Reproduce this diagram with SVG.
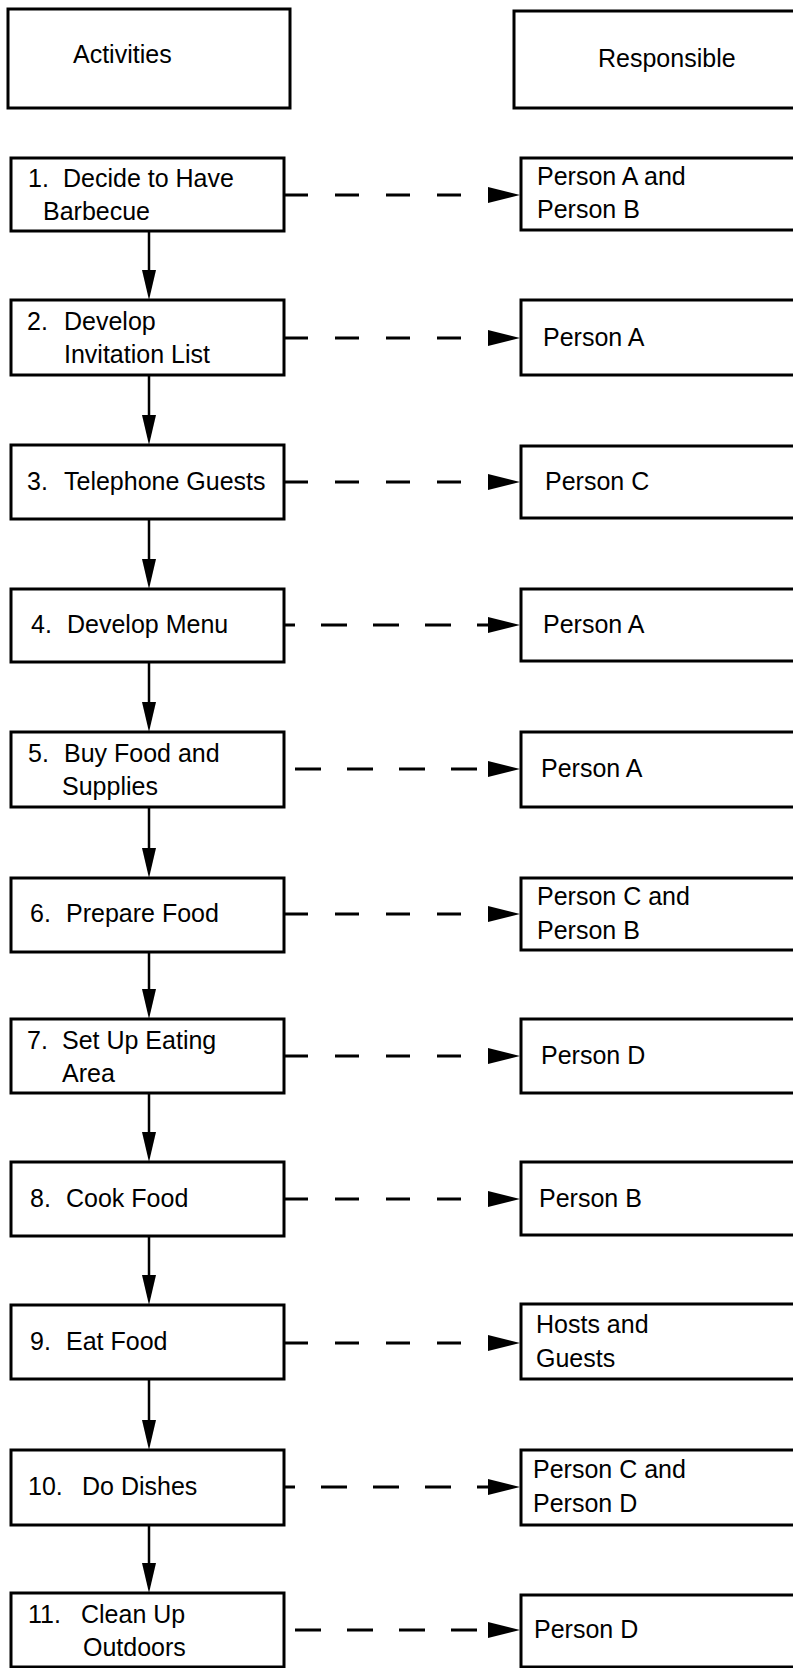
<svg xmlns="http://www.w3.org/2000/svg" width="793" height="1668" viewBox="0 0 793 1668">
  <style>
    .box { fill: #fff; stroke: #000; stroke-width: 3; }
    .t { font-family: "Liberation Sans", Arial, sans-serif; font-size: 25px; fill: #000; }
    .flow { stroke: #000; stroke-width: 2.5; fill: none; marker-end: url(#tipDown); }
    .dash { stroke: #000; stroke-width: 3; fill: none; marker-end: url(#tipRight); }
    .dA { stroke-dasharray: 24 27; }
    .dB { stroke-dasharray: 26 26; stroke-dashoffset: 15; }
    .dC { stroke-dasharray: 26 26; }
  </style>
  <defs>
    <marker id="tipRight" markerUnits="userSpaceOnUse" markerWidth="33" markerHeight="18" refX="0" refY="9" orient="auto">
      <path d="M0,1 L32,9 L0,17 Z" fill="#000"/>
    </marker>
    <marker id="tipDown" markerUnits="userSpaceOnUse" markerWidth="31" markerHeight="15" refX="0" refY="7.5" orient="auto">
      <path d="M0,0.5 L30,7.5 L0,14.5 Z" fill="#000"/>
    </marker>
  </defs>

  <rect width="793" height="1668" fill="#fff"/>

  <!-- column headings -->
  <g id="head-activities">
    <rect class="box" x="8" y="9" width="282" height="99"/>
    <text class="t" x="73" y="63">Activities</text>
  </g>
  <g id="head-responsible">
    <rect class="box" x="514" y="11" width="300" height="97"/>
    <text class="t" x="598" y="67">Responsible</text>
  </g>

  <!-- activity steps -->
  <g id="act1">
    <rect class="box" x="11" y="158" width="273" height="73"/>
    <text class="t" x="28" y="187">1.</text><text class="t" x="63" y="187">Decide to Have</text>
    <text class="t" x="43" y="220">Barbecue</text>
  </g>
  <g id="act2">
    <rect class="box" x="11" y="300" width="273" height="75"/>
    <text class="t" x="27" y="330">2.</text><text class="t" x="64" y="330">Develop</text>
    <text class="t" x="64" y="363">Invitation List</text>
  </g>
  <g id="act3">
    <rect class="box" x="11" y="445" width="273" height="74"/>
    <text class="t" x="27" y="490">3.</text><text class="t" x="64" y="490">Telephone Guests</text>
  </g>
  <g id="act4">
    <rect class="box" x="11" y="589" width="273" height="73"/>
    <text class="t" x="31" y="633">4.</text><text class="t" x="67" y="633">Develop Menu</text>
  </g>
  <g id="act5">
    <rect class="box" x="11" y="732" width="273" height="75"/>
    <text class="t" x="28" y="762">5.</text><text class="t" x="64" y="762">Buy Food and</text>
    <text class="t" x="62" y="795">Supplies</text>
  </g>
  <g id="act6">
    <rect class="box" x="11" y="878" width="273" height="74"/>
    <text class="t" x="30" y="922">6.</text><text class="t" x="66" y="922">Prepare Food</text>
  </g>
  <g id="act7">
    <rect class="box" x="11" y="1019" width="273" height="74"/>
    <text class="t" x="27" y="1049">7.</text><text class="t" x="62" y="1049">Set Up Eating</text>
    <text class="t" x="62" y="1082">Area</text>
  </g>
  <g id="act8">
    <rect class="box" x="11" y="1162" width="273" height="74"/>
    <text class="t" x="30" y="1207">8.</text><text class="t" x="66" y="1207">Cook Food</text>
  </g>
  <g id="act9">
    <rect class="box" x="11" y="1305" width="273" height="74"/>
    <text class="t" x="30" y="1350">9.</text><text class="t" x="66" y="1350">Eat Food</text>
  </g>
  <g id="act10">
    <rect class="box" x="11" y="1450" width="273" height="75"/>
    <text class="t" x="28" y="1495">10.</text><text class="t" x="82" y="1495">Do Dishes</text>
  </g>
  <g id="act11">
    <rect class="box" x="11" y="1593" width="273" height="74"/>
    <text class="t" x="28" y="1623">11.</text><text class="t" x="81" y="1623">Clean Up</text>
    <text class="t" x="83" y="1656">Outdoors</text>
  </g>

  <!-- people responsible (boxes run off the right edge) -->
  <g id="resp1">
    <rect class="box" x="521" y="158" width="300" height="72"/>
    <text class="t" x="537" y="185">Person A and</text>
    <text class="t" x="537" y="218">Person B</text>
  </g>
  <g id="resp2">
    <rect class="box" x="521" y="300" width="300" height="75"/>
    <text class="t" x="543" y="346">Person A</text>
  </g>
  <g id="resp3">
    <rect class="box" x="521" y="446" width="300" height="72"/>
    <text class="t" x="545" y="490">Person C</text>
  </g>
  <g id="resp4">
    <rect class="box" x="521" y="589" width="300" height="72"/>
    <text class="t" x="543" y="633">Person A</text>
  </g>
  <g id="resp5">
    <rect class="box" x="521" y="732" width="300" height="75"/>
    <text class="t" x="541" y="777">Person A</text>
  </g>
  <g id="resp6">
    <rect class="box" x="521" y="878" width="300" height="72"/>
    <text class="t" x="537" y="905">Person C and</text>
    <text class="t" x="537" y="939">Person B</text>
  </g>
  <g id="resp7">
    <rect class="box" x="521" y="1019" width="300" height="74"/>
    <text class="t" x="541" y="1064">Person D</text>
  </g>
  <g id="resp8">
    <rect class="box" x="521" y="1162" width="300" height="73"/>
    <text class="t" x="539" y="1207">Person B</text>
  </g>
  <g id="resp9">
    <rect class="box" x="521" y="1304" width="300" height="75"/>
    <text class="t" x="536" y="1333">Hosts and</text>
    <text class="t" x="536" y="1367">Guests</text>
  </g>
  <g id="resp10">
    <rect class="box" x="521" y="1450" width="300" height="75"/>
    <text class="t" x="533" y="1478">Person C and</text>
    <text class="t" x="533" y="1512">Person D</text>
  </g>
  <g id="resp11">
    <rect class="box" x="521" y="1595" width="300" height="72"/>
    <text class="t" x="534" y="1638">Person D</text>
  </g>

  <!-- connectors -->
  <g id="connectors">
    <!-- sequence, step to step -->
    <line class="flow" x1="149" y1="231" x2="149" y2="270"/>
    <line class="flow" x1="149" y1="375" x2="149" y2="415"/>
    <line class="flow" x1="149" y1="519" x2="149" y2="559"/>
    <line class="flow" x1="149" y1="662" x2="149" y2="702"/>
    <line class="flow" x1="149" y1="807" x2="149" y2="848"/>
    <line class="flow" x1="149" y1="952" x2="149" y2="989"/>
    <line class="flow" x1="149" y1="1093" x2="149" y2="1132"/>
    <line class="flow" x1="149" y1="1236" x2="149" y2="1275"/>
    <line class="flow" x1="149" y1="1379" x2="149" y2="1420"/>
    <line class="flow" x1="149" y1="1525" x2="149" y2="1563"/>
    <!-- assignment, step to person -->
    <line class="dash dA" x1="284" y1="195" x2="488" y2="195"/>
    <line class="dash dA" x1="284" y1="338" x2="488" y2="338"/>
    <line class="dash dA" x1="284" y1="482" x2="488" y2="482"/>
    <line class="dash dB" x1="284" y1="625" x2="488" y2="625"/>
    <line class="dash dC" x1="295" y1="769" x2="488" y2="769"/>
    <line class="dash dA" x1="284" y1="914" x2="488" y2="914"/>
    <line class="dash dA" x1="284" y1="1056" x2="488" y2="1056"/>
    <line class="dash dA" x1="284" y1="1199" x2="488" y2="1199"/>
    <line class="dash dA" x1="284" y1="1343" x2="488" y2="1343"/>
    <line class="dash dB" x1="284" y1="1487" x2="488" y2="1487"/>
    <line class="dash dC" x1="295" y1="1630" x2="488" y2="1630"/>
  </g>
</svg>
